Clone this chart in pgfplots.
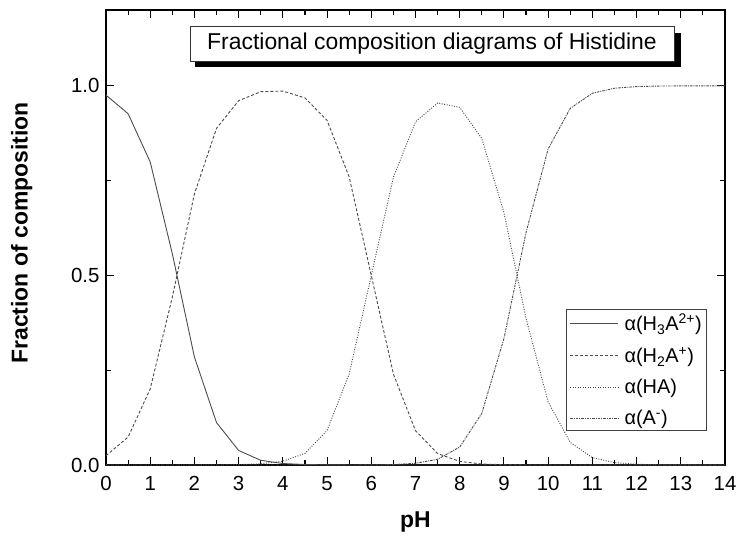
\documentclass[border=0pt]{standalone}
\usepackage{pgfplots}
\pgfplotsset{compat=1.18}
\usepackage{fontspec}
\setmainfont{Liberation Sans}
\pgfplotstableread{
pH a0 a1 a2 a3
0.0 0.9755 0.0245 0.0000 0.0000
0.5 0.9264 0.0736 0.0000 0.0000
1.0 0.7992 0.2008 0.0000 0.0000
1.5 0.5573 0.4427 0.0000 0.0000
2.0 0.2847 0.7152 0.0001 0.0000
2.5 0.1118 0.8879 0.0003 0.0000
3.0 0.0383 0.9608 0.0010 0.0000
3.5 0.0124 0.9845 0.0031 0.0000
4.0 0.0039 0.9862 0.0099 0.0000
4.5 0.0012 0.9682 0.0306 0.0000
5.0 0.0004 0.9088 0.0909 0.0000
5.5 0.0001 0.7596 0.2402 0.0000
6.0 0.0000 0.4999 0.4999 0.0003
6.5 0.0000 0.2400 0.7588 0.0012
7.0 0.0000 0.0905 0.9050 0.0045
7.5 0.0000 0.0302 0.9547 0.0151
8.0 0.0000 0.0094 0.9433 0.0473
8.5 0.0000 0.0027 0.8608 0.1364
9.0 0.0000 0.0007 0.6657 0.3336
9.5 0.0000 0.0001 0.3868 0.6131
10.0 0.0000 0.0000 0.1663 0.8337
10.5 0.0000 0.0000 0.0594 0.9406
11.0 0.0000 0.0000 0.0196 0.9804
11.5 0.0000 0.0000 0.0063 0.9937
12.0 0.0000 0.0000 0.0020 0.9980
12.5 0.0000 0.0000 0.0006 0.9994
13.0 0.0000 0.0000 0.0002 0.9998
13.5 0.0000 0.0000 0.0001 0.9999
14.0 0.0000 0.0000 0.0000 1.0000
}\data
\begin{document}
\begin{tikzpicture}
\path[use as bounding box] (-106bp,-73bp) rectangle (631bp,465bp);
\begin{axis}[
  at={(0bp,0bp)}, anchor=south west,
  scale only axis, width=619bp, height=455bp,
  xmin=0, xmax=14, ymin=0, ymax=1.2,
  xtick={0,1,...,14}, minor x tick num=1,
  ytick={0,0.5,1.0}, minor y tick num=1,
  tick align=inside,
  major tick length=8bp, minor tick length=5bp,
  axis line style={line width=1.4bp},
  every tick/.style={black, line width=1.1bp},
  /pgf/number format/assume math mode=true,
  tick label style={font=\fontsize{20.5}{22}\selectfont},
  xticklabel style={yshift=-8bp},
  yticklabel style={xshift=-3bp, /pgf/number format/.cd, fixed, fixed zerofill, precision=1},
  xlabel={pH}, ylabel={Fraction of composition},
  label style={font=\fontsize{23}{26}\selectfont\bfseries},
  xlabel style={at={(axis description cs:0.5,-0.125)}, anchor=center},
  ylabel style={at={(axis description cs:-0.136,0.51)}, anchor=center},
  legend cell align=left,
  legend style={at={(axis cs:10.41,0.4105)}, anchor=north west,
    draw=black!75, line width=0.7bp, fill=white,
    font=\fontsize{20}{22}\selectfont, row sep=11bp,
    inner xsep=3bp, inner ysep=2bp},
  legend image code/.code={\draw[#1] (0bp,0bp) -- (48bp,0bp); \path (52bp,0bp);},
]
\addplot[black!70, line width=0.9bp] table[x=pH, y=a0] {\data};
\addlegendentry{α(H\textsubscript{3}A\textsuperscript{2+})}
\addplot[black!70, line width=0.9bp, dash pattern=on 3bp off 2bp] table[x=pH, y=a1] {\data};
\addlegendentry{α(H\textsubscript{2}A\textsuperscript{+})}
\addplot[black!70, line width=0.9bp, dash pattern=on 1bp off 1.5bp] table[x=pH, y=a2] {\data};
\addlegendentry{α(HA)}
\addplot[black!70, line width=0.9bp, dash pattern=on 2.5bp off 1bp on 1bp off 1bp] table[x=pH, y=a3] {\data};
\addlegendentry{α(A\textsuperscript{-})}
\end{axis}
\fill[black] (89bp,398bp) rectangle (575bp,432bp);
\draw[black!80, line width=0.8bp, fill=white] (84bp,404bp) rectangle (568bp,439bp);
\node[font=\fontsize{23}{26}\selectfont] at (326bp,421.5bp) {Fractional composition diagrams of Histidine};
\end{tikzpicture}
\end{document}
